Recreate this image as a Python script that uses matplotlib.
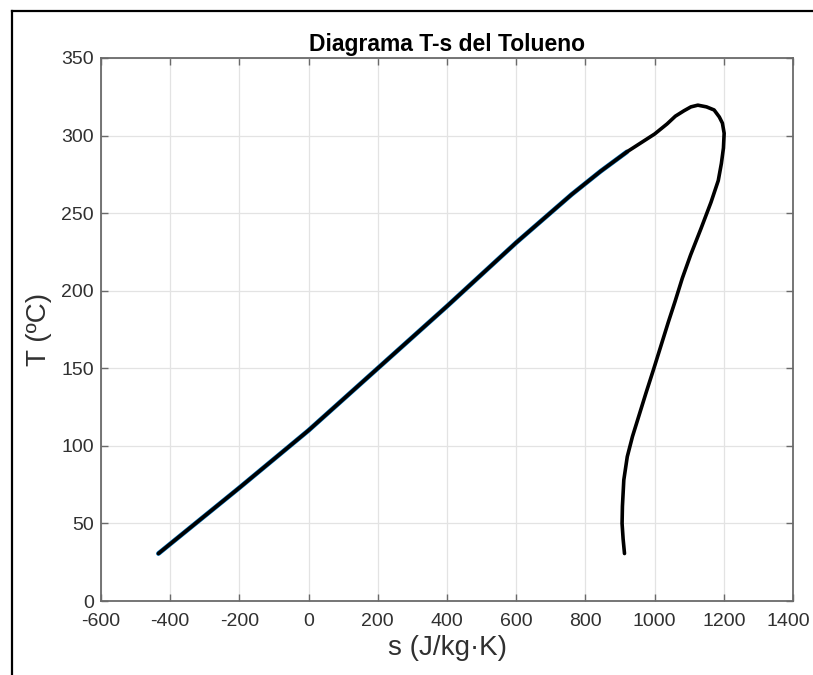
import matplotlib
matplotlib.use("Agg")
import matplotlib.pyplot as plt
import matplotlib.transforms as mtransforms
from matplotlib.lines import Line2D

# Saturated liquid line (s in J/kg.K, T in C)
s_liq = [-434, -200, 0, 200, 400, 600, 760, 844, 920, 1000, 1036, 1060, 1085, 1105, 1125]
T_liq = [30.6, 73, 110, 150, 190, 231, 262, 277, 289.5, 301, 307.5, 312.5, 316, 318.5, 319.6]

# Saturated vapour line, from the critical point downwards
s_vap = [1125, 1150, 1172, 1187, 1196, 1201, 1199, 1193, 1184, 1163, 1134, 1104,
         1080, 1059, 1040, 998, 975, 936, 921, 911, 907, 906, 909, 913]
T_vap = [319.6, 318.5, 316.5, 312, 308, 301.5, 292, 282, 271, 257, 240, 223,
         208, 193, 180, 150, 134, 106, 93, 78, 61, 50, 40, 30.6]

x_ticks = list(range(-600, 1401, 200))
y_ticks = list(range(0, 351, 50))

plt.rcParams['font.family'] = ['Liberation Sans', 'DejaVu Sans']
plt.rcParams['axes.unicode_minus'] = False

fig = plt.figure(figsize=(8.13, 6.75), dpi=100)
ax = fig.add_axes([101 / 813, 74 / 675, 692 / 813, 543 / 675])

# blue trace under the black one on the liquid side
ax.plot(s_liq[:9], T_liq[:9], color='#0072BD', lw=3.4, solid_capstyle='round')
ax.plot(s_liq + s_vap[1:], T_liq + T_vap[1:], color='black', lw=2.6,
        solid_capstyle='round', solid_joinstyle='round')

ax.set_xlim(-600, 1400)
ax.set_ylim(0, 350)
ax.set_xticks(x_ticks)
ax.set_yticks(y_ticks)
ax.grid(True, color='#e3e3e3', lw=0.9)
ax.set_axisbelow(True)

for sp in ax.spines.values():
    sp.set_color('#6a6a6a')
    sp.set_linewidth(1.3)
ax.tick_params(direction='in', length=5, width=1, color='#6a6a6a',
               top=True, right=True, labelsize=14, labelcolor='#303030')
ax.tick_params(axis='x', pad=9)
ax.tick_params(axis='y', pad=5)

# keep the last x label inside the picture
last = ax.get_xticklabels()[-1]
last.set_transform(last.get_transform() +
                   mtransforms.ScaledTranslation(-5 / 100, 0, fig.dpi_scale_trans))

ax.set_title('Diagrama T-s del Tolueno', fontsize=16.5, fontweight='bold', pad=5)
ax.set_xlabel('s (J/kg·K)', fontsize=20, color='#303030', labelpad=3)
ax.set_ylabel('T (ºC)', fontsize=20, color='#303030', labelpad=7)

# screenshot frame (left and top edges)
fig.add_artist(Line2D([12 / 813, 12 / 813], [0, 1 - 11 / 675], color='black', lw=1.6))
fig.add_artist(Line2D([12 / 813, 1], [1 - 11 / 675, 1 - 11 / 675], color='black', lw=1.6))

fig.savefig('out.png', dpi=100)
